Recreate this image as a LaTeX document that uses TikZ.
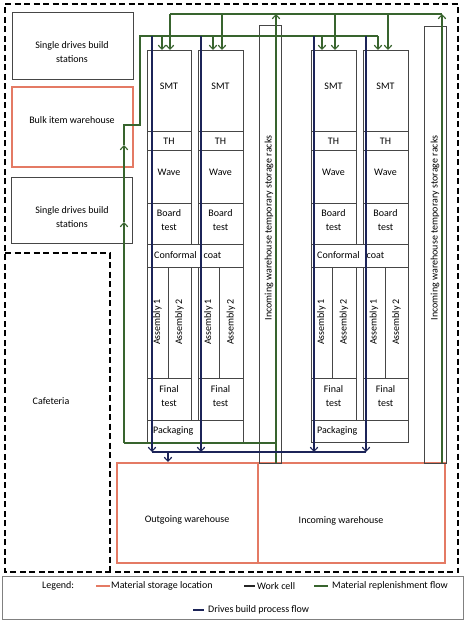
\documentclass[tikz,border=0pt]{standalone}
\usepackage{fontspec}
\setmainfont{Carlito}
\usetikzlibrary{arrows.meta}
\definecolor{wred}{RGB}{228,122,100}
\definecolor{wgreen}{RGB}{56,100,46}
\definecolor{wnavy}{RGB}{28,36,88}
\definecolor{wgray}{RGB}{70,70,70}
\tikzset{
  cell/.style={draw=wgray, line width=0.85pt},
  plainbox/.style={draw=wgray, line width=0.85pt},
  store/.style={draw=wred, line width=1.1pt},
  gflow/.style={draw=wgreen, line width=1.2pt},
  nflow/.style={draw=wnavy, line width=1.4pt},
  tip/.style={-{Straight Barb[length=4pt,width=7.5pt,line width=1.1pt]}},
  lbl/.style={inner sep=0pt, align=center},
  border/.style={draw=black, line width=1.3pt, dash pattern=on 6pt off 3.5pt},
}
\newcommand{\wcell}[4]{%
  \draw[cell] (#2,50) rectangle (#3,244);
  \draw[cell] (#2,131) -- (#3,131) (#2,150) -- (#3,150) (#2,203) -- (#3,203);
  \draw[cell] (#2,267) rectangle (#3,420) (#2,378) -- (#3,378) (#4,267) -- (#4,378);
  \node[lbl] (#1smt) at ({(#2+#3)/2},86) {SMT};
  \node[lbl] (#1th) at ({(#2+#3)/2},141) {TH};
  \node[lbl] (#1wave) at ({(#2+#3)/2},172) {Wave};
  \node[lbl] (#1bt) at ({(#2+#3)/2},220) {Board\\test};
  \node[lbl, rotate=90] (#1aa) at ({(#2+#4)/2},322) {Assembly 1};
  \node[lbl, rotate=90] (#1ab) at ({(#4+#3)/2},322) {Assembly 2};
  \node[lbl] (#1ft) at ({(#2+#3)/2},396) {Final\\test};
}
\begin{document}
\begin{tikzpicture}[x=1pt, y=-1pt, font=\fontsize{10}{13.5}\selectfont]
\useasboundingbox (0,0) rectangle (474,624);

% outer dashed boundary and cafeteria
\draw[border] (5,4) -- (458,4) -- (458,572) -- (5,572) -- cycle;
\draw[border] (5,253) -- (110,253) -- (110,572);
\node[lbl] (cafe) at (51,401) {Cafeteria};

% left boxes
\draw[plainbox] (12,12) rectangle (133,79);
\node[lbl] (sd1) at (72,52) {Single drives build\\stations};
\draw[store] (12,87) rectangle (133,167);
\node[lbl] (bulk) at (72,120) {Bulk item warehouse};
\draw[plainbox] (11,177) rectangle (132,243);
\node[lbl] (sd2) at (72,217) {Single drives build\\stations};

% warehouses
\draw[store] (117,463) rectangle (258,563);
\node[lbl] (out) at (187,520) {Outgoing warehouse};
\draw[store] (258,463) rectangle (445,563);
\node[lbl] (inc) at (341,521) {Incoming warehouse};

% racks
\draw[plainbox] (259,25) rectangle (281,463);
\node[lbl, rotate=90] (rack1) at (269,228) {Incoming warehouse temporary storage racks};
\draw[plainbox] (424,26) rectangle (446,463);
\node[lbl, rotate=90] (rack2) at (435,228) {Incoming warehouse temporary storage racks};

% work cells
\wcell{ca}{147}{191}{168}
\wcell{cb}{198}{243}{219}
\wcell{cc}{311}{356}{332}
\wcell{cd}{363}{408}{385}
\draw[cell] (147,244) rectangle (243,267);
\node[lbl, anchor=west] (conf1) at (154,255) {Conformal\hspace{7pt}coat};
\draw[cell] (311,244) rectangle (408,267);
\node[lbl, anchor=west] (conf2) at (317,255) {Conformal\hspace{7pt}coat};
\draw[cell] (147,420) rectangle (243,442);
\node[lbl, anchor=west] (pack1) at (153,431) {Packaging};
\draw[cell] (311,420) rectangle (408,442);
\node[lbl, anchor=west] (pack2) at (317,431) {Packaging};

% green replenishment flow
\coordinate (gBot) at (276,463);
\coordinate (gTop) at (276,14);
\coordinate (rBot) at (442,463);
\coordinate (rTop) at (442,14);
\coordinate (gLeft) at (170,14);
\draw[gflow, tip] (gBot) -- (gTop);
\draw[gflow, tip] (rBot) -- (rTop);
\draw[gflow] (gLeft) -- (rTop);
\foreach \x [count=\i] in {170,222,335,388} {
  \coordinate (ga\i) at (\x,14);
  \coordinate (gb\i) at (\x,50);
  \draw[gflow, tip] (ga\i) -- (gb\i);
}
\coordinate (bJ) at (276,443);
\coordinate (bC) at (124,443);
\coordinate (bM1) at (124,222);
\coordinate (bM2) at (124,145);
\coordinate (bT) at (124,125);
\coordinate (bK) at (140,125);
\coordinate (bK2) at (140,36);
\coordinate (bE) at (378,36);
\draw[gflow] (bJ) -- (bC);
\draw[gflow, tip] (bC) -- (bM1);
\draw[gflow, tip] (bM1) -- (bM2);
\draw[gflow] (bM2) -- (bT) -- (bK) -- (bK2) -- (bE);
\foreach \x [count=\i] in {162,213,322,378} {
  \coordinate (gc\i) at (\x,36);
  \coordinate (gd\i) at (\x,50);
  \draw[gflow, tip] (gc\i) -- (gd\i);
}

% navy process flow
\foreach \x [count=\i] in {152,201,314,366} {
  \coordinate (na\i) at (\x,36);
  \coordinate (nb\i) at (\x,452);
  \draw[nflow, tip] (na\i) -- (nb\i);
}
\draw[nflow] (nb1) -- (nb4);
\coordinate (nOut) at (168,452);
\coordinate (nOutE) at (168,462);
\draw[nflow, tip] (nOut) -- (nOutE);

% legend
\draw[draw=gray, line width=0.9pt] (2,576) rectangle (463,619);
\node[lbl, anchor=west] (lg) at (42,586) {Legend:};
\draw[wred, line width=1.8pt] (96,586) -- (110,586);
\node[lbl, anchor=west] (lg1) at (111,586) {Material storage location};
\draw[black!85, line width=1.8pt] (244,586) -- (255,586);
\node[lbl, anchor=west] (lg2) at (257,586) {Work cell};
\draw[wgreen, line width=1.8pt] (314,586) -- (328,586);
\node[lbl, anchor=west] (lg3) at (332,586) {Material replenishment flow};
\draw[wnavy, line width=1.8pt] (193,610) -- (204,610);
\node[lbl, anchor=west] (lg4) at (208,610) {Drives build process flow};
\end{tikzpicture}
\end{document}
